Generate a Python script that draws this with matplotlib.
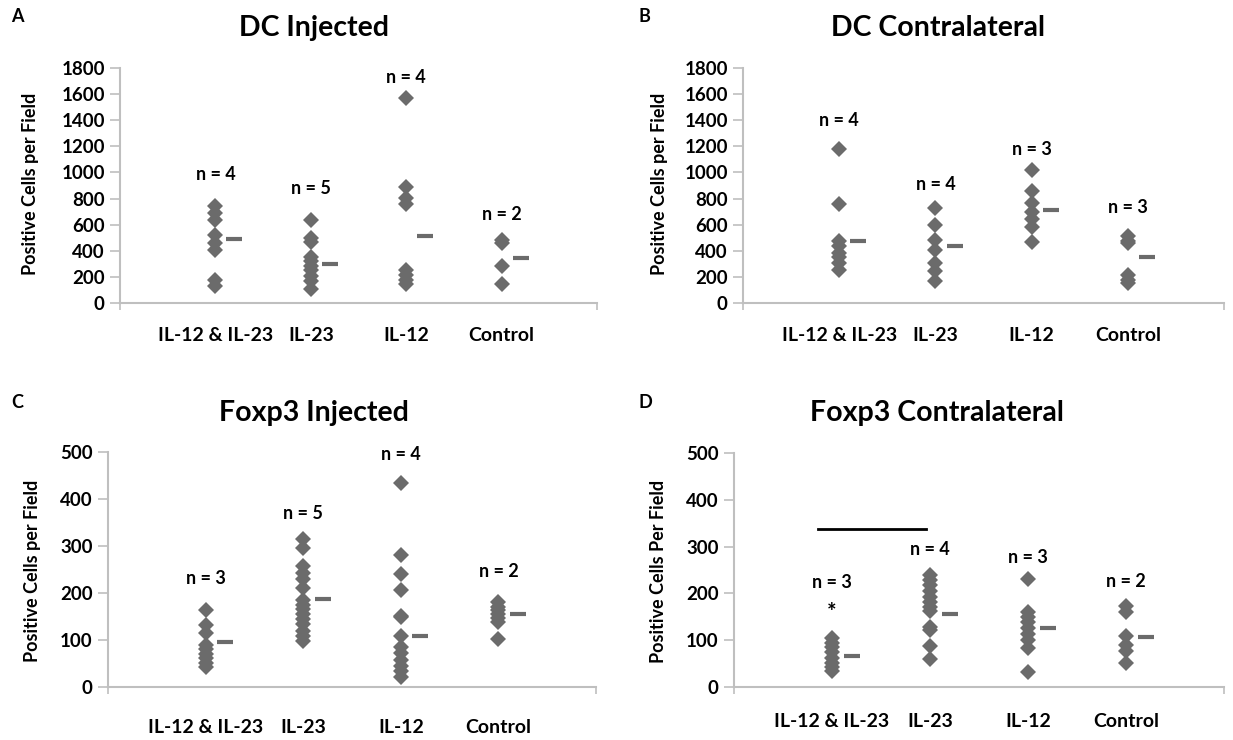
import matplotlib
matplotlib.use("Agg")
import matplotlib.pyplot as plt
import numpy as np

plt.rcParams['font.family'] = ['Lato', 'DejaVu Sans']
plt.rcParams['font.weight'] = 'bold'

categories = ["IL-12 & IL-23", "IL-23", "IL-12", "Control"]

# Panel A: DC Injected
a_vals = [
    [740, 690, 633, 518, 460, 408, 178, 128],
    [633, 500, 470, 350, 320, 280, 250, 210, 170, 110],
    [1570, 888, 807, 756, 255, 212, 174, 143],
    [480, 462, 283, 148],
]
a_means = [493, 301, 511, 347]
a_n = ["n = 4", "n = 5", "n = 4", "n = 2"]
a_n_y = [985, 876, 1731, 679]

# Panel B: DC Contralateral
b_vals = [
    [1176, 758, 475, 440, 380, 350, 310, 255],
    [726, 598, 483, 407, 305, 242, 165],
    [1018, 856, 764, 700, 644, 585, 466],
    [514, 478, 458, 216, 178, 153],
]
b_means = [478, 433, 715, 356]
b_n = ["n = 4", "n = 4", "n = 3", "n = 3"]
b_n_y = [1395, 911, 1176, 733]

# Panel C: Foxp3 Injected
c_vals = [
    [163, 132, 115, 90, 81, 71, 62, 52, 42],
    [315, 295, 258, 242, 230, 210, 185, 175, 165, 155, 145, 133, 120, 108, 97],
    [433, 280, 240, 207, 151, 148, 109, 86, 72, 58, 44, 33, 21],
    [180, 171, 164, 156, 146, 139, 102],
]
c_means = [95, 187, 109, 155]
c_n = ["n = 3", "n = 5", "n = 4", "n = 2"]
c_n_y = [230, 369, 495, 245]

# Panel D: Foxp3 Contralateral
d_vals = [
    [105, 95, 85, 75, 62, 52, 42, 35],
    [239, 229, 218, 206, 193, 182, 172, 163, 129, 121, 88, 60],
    [230, 161, 149, 138, 126, 114, 101, 83, 31],
    [173, 161, 108, 90, 76, 51],
]
d_means = [67, 156, 126, 106]
d_n = ["n = 3", "n = 4", "n = 3", "n = 2"]
d_n_y = [224, 294, 277, 226]
d_star_y = 160
d_sig_y = 338
d_sig_x = [0.86, 1.96]

W, H = 1233, 740
fig = plt.figure(figsize=(W / 100, H / 100), dpi=100)

marker_color = "#6b6b6b"
axis_color = "#bfbfbf"


def px_axes(left, right, top, bottom):
    return fig.add_axes([left / W, 1 - bottom / H, (right - left) / W, (bottom - top) / H])


def draw_panel(ax, vals, means, nlabels, ny, ymax, ystep, cat_pad):
    for i, v in enumerate(vals):
        x = i + 1
        ax.plot([x] * len(v), v, linestyle="none", marker="D", markersize=8,
                color=marker_color, markeredgewidth=0, clip_on=False)
        ax.plot([x + 0.2], [means[i]], linestyle="none", marker="_", markersize=11,
                markeredgewidth=3, color=marker_color, clip_on=False)
        ax.text(x, ny[i], nlabels[i], ha="center", va="center", fontsize=13,
                fontweight="bold")
    ax.set_xlim(0, 5)
    ax.set_ylim(0, ymax)
    ax.set_yticks(np.arange(0, ymax + 1, ystep))
    ax.set_xticks([1, 2, 3, 4])
    ax.set_xticklabels(categories, fontsize=14, fontweight="bold")
    ax.set_xticks([0, 1, 2, 3, 4, 5], minor=True)
    ax.tick_params(axis="x", which="major", length=0, pad=cat_pad)
    ax.tick_params(axis="x", which="minor", length=5, width=1.2, color=axis_color)
    ax.tick_params(axis="y", length=7, width=1.2, color=axis_color, labelsize=13.5,
                   pad=4)
    for lab in ax.get_yticklabels():
        lab.set_fontweight("bold")
    for s in ["top", "right"]:
        ax.spines[s].set_visible(False)
    for s in ["left", "bottom"]:
        ax.spines[s].set_color(axis_color)
        ax.spines[s].set_linewidth(1.5)


axA = px_axes(120, 597, 68, 303)
draw_panel(axA, a_vals, a_means, a_n, a_n_y, 1800, 200, 17)
axB = px_axes(743, 1224, 68, 303)
draw_panel(axB, b_vals, b_means, b_n, b_n_y, 1800, 200, 17)
axC = px_axes(108, 596, 452, 687)
draw_panel(axC, c_vals, c_means, c_n, c_n_y, 500, 100, 23)
axD = px_axes(734, 1224, 453, 687)
draw_panel(axD, d_vals, d_means, d_n, d_n_y, 500, 100, 19)

# significance bar & asterisk in D
axD.plot(d_sig_x, [d_sig_y, d_sig_y], color="black", linewidth=2)
axD.text(1, d_star_y, "*", ha="center", va="center", fontsize=16, fontweight="bold")

# Y labels
ylab_fs = 13
fig.text(31 / W, 1 - 184 / H, "Positive Cells per Field", rotation=90, ha="center",
         va="center", fontsize=ylab_fs, fontweight="bold")
fig.text(659 / W, 1 - 184 / H, "Positive Cells per Field", rotation=90, ha="center",
         va="center", fontsize=ylab_fs, fontweight="bold")
fig.text(33 / W, 1 - 571 / H, "Positive Cells per Field", rotation=90, ha="center",
         va="center", fontsize=ylab_fs, fontweight="bold")
fig.text(659 / W, 1 - 571 / H, "Positive Cells Per Field", rotation=90, ha="center",
         va="center", fontsize=ylab_fs, fontweight="bold")

# Titles
title_fs = 20.5
fig.text(314 / W, 1 - 28 / H, "DC Injected", ha="center", va="center",
         fontsize=title_fs, fontweight="bold")
fig.text(938 / W, 1 - 28 / H, "DC Contralateral", ha="center", va="center",
         fontsize=title_fs, fontweight="bold")
fig.text(314 / W, 1 - 413 / H, "Foxp3 Injected", ha="center", va="center",
         fontsize=title_fs, fontweight="bold")
fig.text(937 / W, 1 - 413 / H, "Foxp3 Contralateral", ha="center", va="center",
         fontsize=title_fs, fontweight="bold")

# Panel letters
for lx, ly, s in [(17, 16, "A"), (644, 16, "B"), (17, 402, "C"), (645, 402, "D")]:
    fig.text(lx / W, 1 - ly / H, s, ha="center", va="center", fontsize=13,
             fontweight="bold")

fig.savefig("out.png", dpi=100)
